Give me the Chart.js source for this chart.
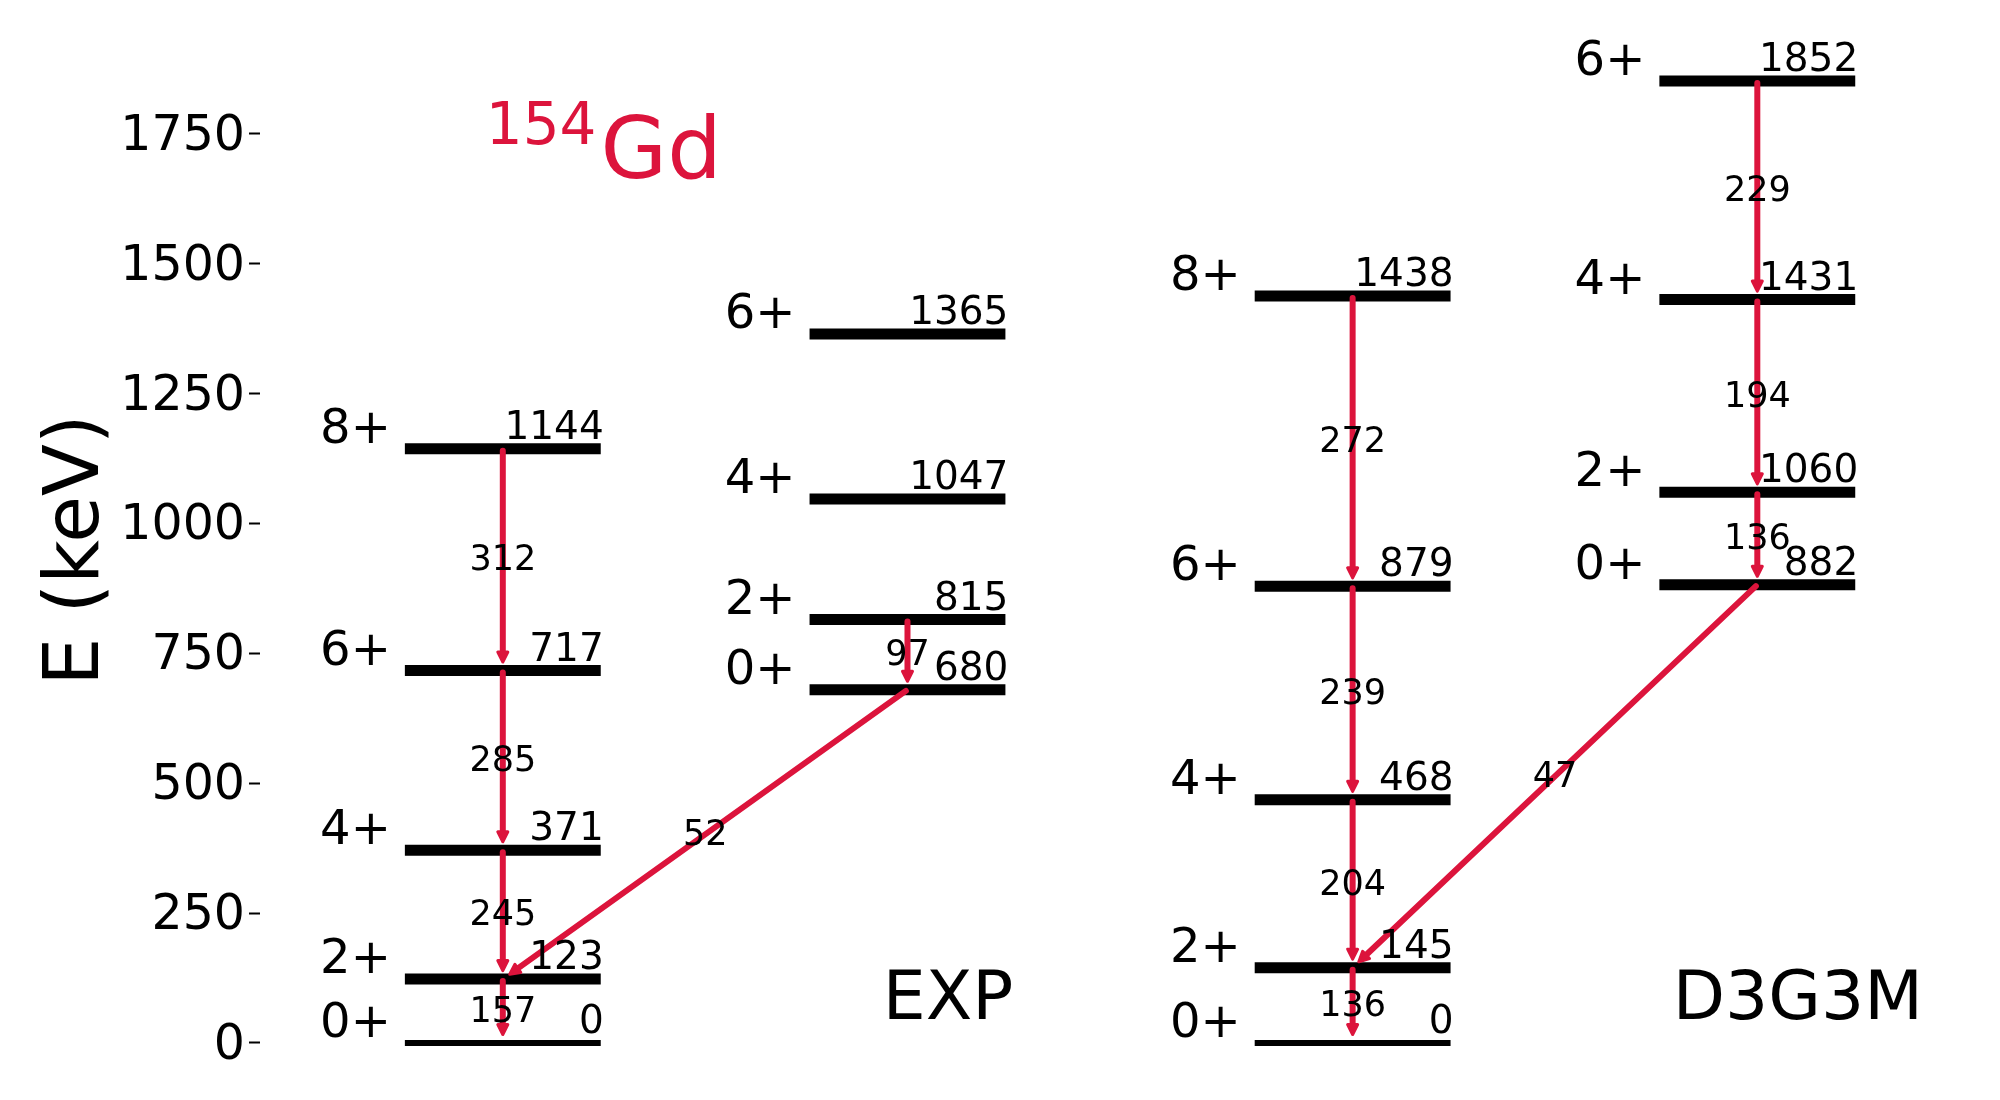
<!DOCTYPE html>
<html>
<head>
<meta charset="utf-8">
<script src="https://cdn.jsdelivr.net/npm/chart.js@4.4.1/dist/chart.umd.min.js"></script>
<style>
  html, body { margin: 0; padding: 0; background: #fff; }
  canvas { display: block; }
</style>
</head>
<body>
<canvas id="levels" width="2000" height="1100"></canvas>
<script>
// Level energies (keV) and spins
const expGsbSpins = ['0+', '2+', '4+', '6+', '8+'];
const expGsbEnergies = [0, 123, 371, 717, 1144];
const expBandSpins = ['0+', '2+', '4+', '6+'];
const expBandEnergies = [680, 815, 1047, 1365];
const calcGsbSpins = ['0+', '2+', '4+', '6+', '8+'];
const calcGsbEnergies = [0, 145, 468, 879, 1438];
const calcBandSpins = ['0+', '2+', '4+', '6+'];
const calcBandEnergies = [882, 1060, 1431, 1852];

// B(E2) labels on the arrows, lowest transition first (2->0, 4->2, ...)
const expGsbBE2 = [157, 245, 285, 312];
const expBandBE2 = [97];
const expCrossBE2 = 52;    // 0+(band) -> 2+(gsb)
const calcGsbBE2 = [136, 204, 239, 272];
const calcBandBE2 = [136, 194, 229];
const calcCrossBE2 = 47;

const yTicks = [0, 250, 500, 750, 1000, 1250, 1500, 1750];
const modelNames = ['EXP', 'D3G3M'];
const nucleusMass = '154';
const nucleusName = 'Gd';

// layout
const RED = '#DC143C';
const FONT = '"DejaVu Sans"';
const columnX = [1, 2, 3.1, 4.1];
const HALF = 0.242;

const columns = [
  { spins: expGsbSpins, energies: expGsbEnergies },
  { spins: expBandSpins, energies: expBandEnergies },
  { spins: calcGsbSpins, energies: calcGsbEnergies },
  { spins: calcBandSpins, energies: calcBandEnergies }
];

const transitions = [];
function addCascade(col, be2) {
  be2.forEach((v, i) => transitions.push({ c1: col, i1: i + 1, c2: col, i2: i, label: v }));
}
addCascade(0, expGsbBE2);
addCascade(1, expBandBE2);
addCascade(2, calcGsbBE2);
addCascade(3, calcBandBE2);
transitions.push({ c1: 1, i1: 0, c2: 0, i2: 1, label: expCrossBE2 });
transitions.push({ c1: 3, i1: 0, c2: 2, i2: 1, label: calcCrossBE2 });

// one dataset per level
const datasets = [];
columns.forEach((col, c) => {
  col.energies.forEach(e => {
    datasets.push({
      data: [{ x: columnX[c] - HALF, y: e }, { x: columnX[c] + HALF, y: e }],
      showLine: true,
      borderColor: '#000',
      borderWidth: e === 0 ? 6 : 11,
      pointRadius: 0,
      fill: false
    });
  });
});

function drawArrow(ctx, x1, y1, x2, y2) {
  const dx = x2 - x1, dy = y2 - y1, len = Math.hypot(dx, dy);
  const ux = dx / len, uy = dy / len;
  const sx = x1 + ux * 2, sy = y1 + uy * 2;
  const tipX = x2 - ux * 8.5, tipY = y2 - uy * 8.5;
  const bx = tipX - ux * 10, by = tipY - uy * 10;
  ctx.lineWidth = 6;
  ctx.lineCap = 'round';
  ctx.beginPath();
  ctx.moveTo(sx, sy);
  ctx.lineTo(bx, by);
  ctx.stroke();
  ctx.lineWidth = 3;
  ctx.lineJoin = 'round';
  ctx.beginPath();
  ctx.moveTo(tipX, tipY);
  ctx.lineTo(bx - uy * 5, by + ux * 5);
  ctx.lineTo(bx + uy * 5, by - ux * 5);
  ctx.closePath();
  ctx.fill();
  ctx.stroke();
}

const levelScheme = {
  id: 'levelScheme',
  afterDatasetsDraw(chart) {
    const { ctx, scales: { x, y } } = chart;
    ctx.save();

    // transitions
    ctx.strokeStyle = RED;
    ctx.fillStyle = RED;
    transitions.forEach(t => {
      drawArrow(ctx,
        x.getPixelForValue(columnX[t.c1]), y.getPixelForValue(columns[t.c1].energies[t.i1]),
        x.getPixelForValue(columnX[t.c2]), y.getPixelForValue(columns[t.c2].energies[t.i2]));
    });

    // level labels
    ctx.fillStyle = '#000';
    ctx.textBaseline = 'alphabetic';
    columns.forEach((col, c) => {
      const left = x.getPixelForValue(columnX[c] - HALF);
      const right = x.getPixelForValue(columnX[c] + HALF);
      col.energies.forEach((e, i) => {
        const py = y.getPixelForValue(e);
        ctx.textAlign = 'right';
        ctx.font = '48px ' + FONT;
        ctx.fillText(col.spins[i], left - 14, py - 6);
        ctx.font = '39px ' + FONT;
        ctx.fillText(String(e), right + 3, py - 10);
      });
    });

    // B(E2) labels at the arrow midpoints
    ctx.font = '35px ' + FONT;
    ctx.textAlign = 'center';
    transitions.forEach(t => {
      const mx = (x.getPixelForValue(columnX[t.c1]) + x.getPixelForValue(columnX[t.c2])) / 2;
      const my = (y.getPixelForValue(columns[t.c1].energies[t.i1]) + y.getPixelForValue(columns[t.c2].energies[t.i2])) / 2;
      ctx.fillText(String(t.label), mx, my + 10.8);
    });

    // model names
    ctx.font = '68px ' + FONT;
    ctx.fillText(modelNames[0], x.getPixelForValue(columnX[1] + 0.1), y.getPixelForValue(46));
    ctx.fillText(modelNames[1], x.getPixelForValue(columnX[3] + 0.1), y.getPixelForValue(46));

    // nucleus
    ctx.fillStyle = RED;
    ctx.textAlign = 'left';
    const nx = x.getPixelForValue(columnX[0]) - 17;
    ctx.font = '58px ' + FONT;
    ctx.fillText(nucleusMass, nx, y.getPixelForValue(1730));
    const w = ctx.measureText(nucleusMass).width;
    ctx.font = '86px ' + FONT;
    ctx.fillText(nucleusName, nx + w + 4, y.getPixelForValue(1665));

    ctx.restore();
  }
};

new Chart(document.getElementById('levels'), {
  type: 'scatter',
  data: { datasets: datasets },
  options: {
    responsive: false,
    animation: false,
    devicePixelRatio: 1,
    layout: { padding: { left: 0, right: 10, top: 30, bottom: 30 } },
    plugins: { legend: { display: false }, tooltip: { enabled: false } },
    scales: {
      x: { type: 'linear', display: false, min: 0.4, max: 4.675 },
      y: {
        type: 'linear',
        min: -52,
        max: 1950,
        afterBuildTicks: s => { s.ticks = yTicks.map(v => ({ value: v })); },
        afterFit: s => { s.width = 260; },
        ticks: {
          color: '#000',
          padding: 4,
          // empty first line + tiny line height pushes the label ~3px below its tick
          font: { family: 'DejaVu Sans', size: 49, lineHeight: 0.13 },
          callback: v => ['', String(v)]
        },
        grid: { drawOnChartArea: false, drawTicks: true, tickLength: 11, tickWidth: 2, tickColor: '#000' },
        border: { display: false },
        title: {
          display: true,
          text: 'E (keV)',
          color: '#000',
          font: { family: 'DejaVu Sans', size: 76, lineHeight: 1.2 },
          padding: { top: 33, bottom: 0 }
        }
      }
    }
  },
  plugins: [levelScheme]
});
</script>
</body>
</html>
